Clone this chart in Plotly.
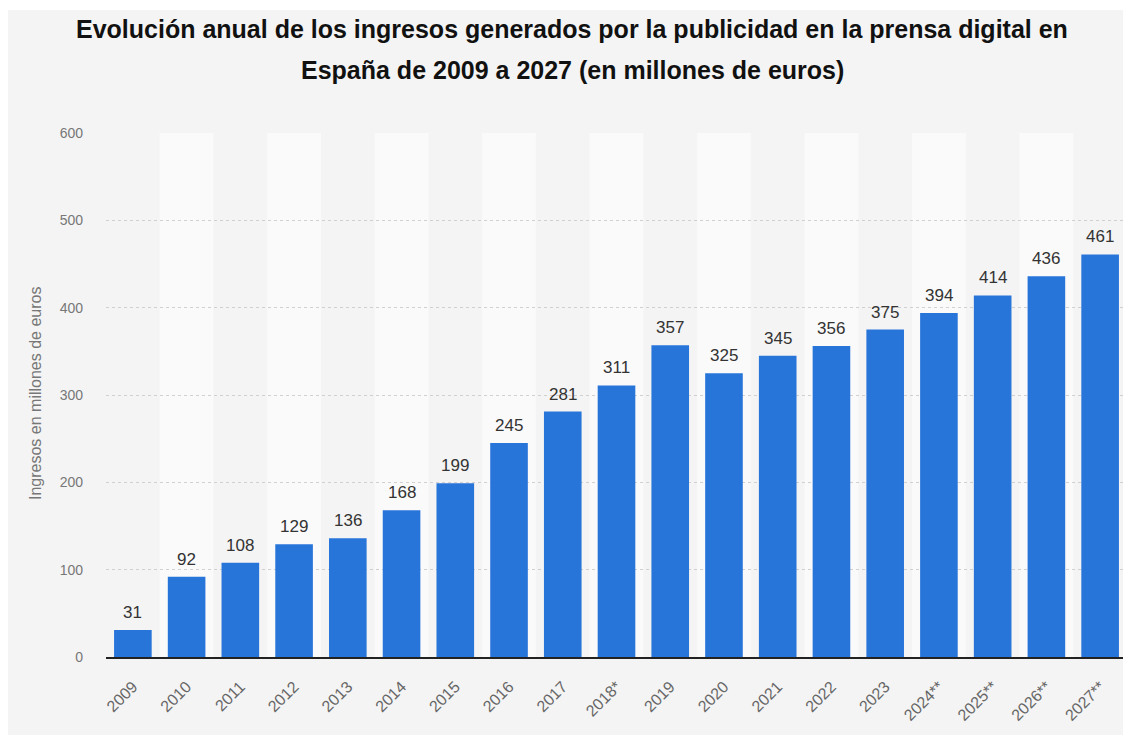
import plotly.graph_objects as go

years = ["2009", "2010", "2011", "2012", "2013", "2014", "2015", "2016", "2017", "2018*",
         "2019", "2020", "2021", "2022", "2023", "2024**", "2025**", "2026**", "2027**"]
revenue = [31, 92, 108, 129, 136, 168, 199, 245, 281, 311, 357, 325, 345, 356, 375, 394, 414, 436, 461]
y_ticks = [0, 100, 200, 300, 400, 500, 600]

title_line1 = "Evolución anual de los ingresos generados por la publicidad en la prensa digital en"
title_line2 = "España de 2009 a 2027 (en millones de euros)"
y_title = "Ingresos en millones de euros"

FONT = "Liberation Sans, Arial, sans-serif"
OFF = 8  # browser body margin
W, H = 1131 - OFF, 735 - OFF
L, R, T, B = 106 - OFF, 4, 133 - OFF, 78
pw, ph = W - L - R, H - T - B
PLOT_BOTTOM_PAGE = OFF + T + ph


def px_x(p):
    return (p - OFF - L) / pw


def px_y(p):
    return (PLOT_BOTTOM_PAGE - p) / ph


fig = go.Figure()
fig.add_trace(go.Bar(
    x=list(range(len(years))), y=revenue,
    marker=dict(color="#2875da", line=dict(width=0)),
    width=0.7,
    cliponaxis=False,
    hoverinfo="x+y",
))

shapes = [dict(type="rect", xref="paper", yref="paper",
               x0=px_x(0), x1=px_x(1131 + 20), y0=px_y(760), y1=px_y(10),
               fillcolor="#f4f4f4", line=dict(width=0), layer="below")]
for i in range(len(years)):
    if i % 2 == 1:
        shapes.append(dict(type="rect", xref="x", yref="paper",
                           x0=i - 0.5, x1=i + 0.5, y0=0, y1=1,
                           fillcolor="#fafafa", line=dict(width=0), layer="below"))

annotations = [
    dict(text="<b>" + title_line1 + "</b>", xref="paper", yref="paper", x=px_x(572), y=px_y(29),
         showarrow=False, xanchor="center", yanchor="middle",
         font=dict(family=FONT, size=25, color="#111111")),
    dict(text="<b>" + title_line2 + "</b>", xref="paper", yref="paper", x=px_x(572), y=px_y(70),
         showarrow=False, xanchor="center", yanchor="middle",
         font=dict(family=FONT, size=25, color="#111111")),
    dict(text=y_title, xref="paper", yref="paper", x=px_x(35), y=px_y(394), textangle=-90,
         showarrow=False, xanchor="center", yanchor="middle",
         font=dict(family=FONT, size=16, color="#777777")),
]
for i, v in enumerate(revenue):
    annotations.append(dict(text=str(v), x=i, y=v, xref="x", yref="y",
                            showarrow=False, xanchor="center", yanchor="bottom", yshift=6,
                            font=dict(family=FONT, size=17, color="#333333")))

fig.update_layout(
    width=W, height=H,
    margin=dict(l=L, r=R, t=T, b=B, autoexpand=False),
    paper_bgcolor="#ffffff",
    plot_bgcolor="rgba(0,0,0,0)",
    showlegend=False,
    shapes=shapes,
    annotations=annotations,
    xaxis=dict(
        tickmode="array", tickvals=list(range(len(years))), ticktext=years,
        range=[-0.5, len(years) - 0.5], tickangle=-45,
        tickfont=dict(family=FONT, size=16, color="#666666"),
        showgrid=False, showline=True, linecolor="#222222", linewidth=2,
        ticks="", zeroline=False, ticklabelstandoff=12,
    ),
    yaxis=dict(
        range=[0, 600], tickvals=y_ticks,
        tickfont=dict(family=FONT, size=14, color="#777777"),
        showgrid=True, gridcolor="#d0d0d0", griddash="dot", gridwidth=1,
        zeroline=False, showline=False, ticks="", ticklabelstandoff=22,
    ),
)

fig.write_html("out.html")
